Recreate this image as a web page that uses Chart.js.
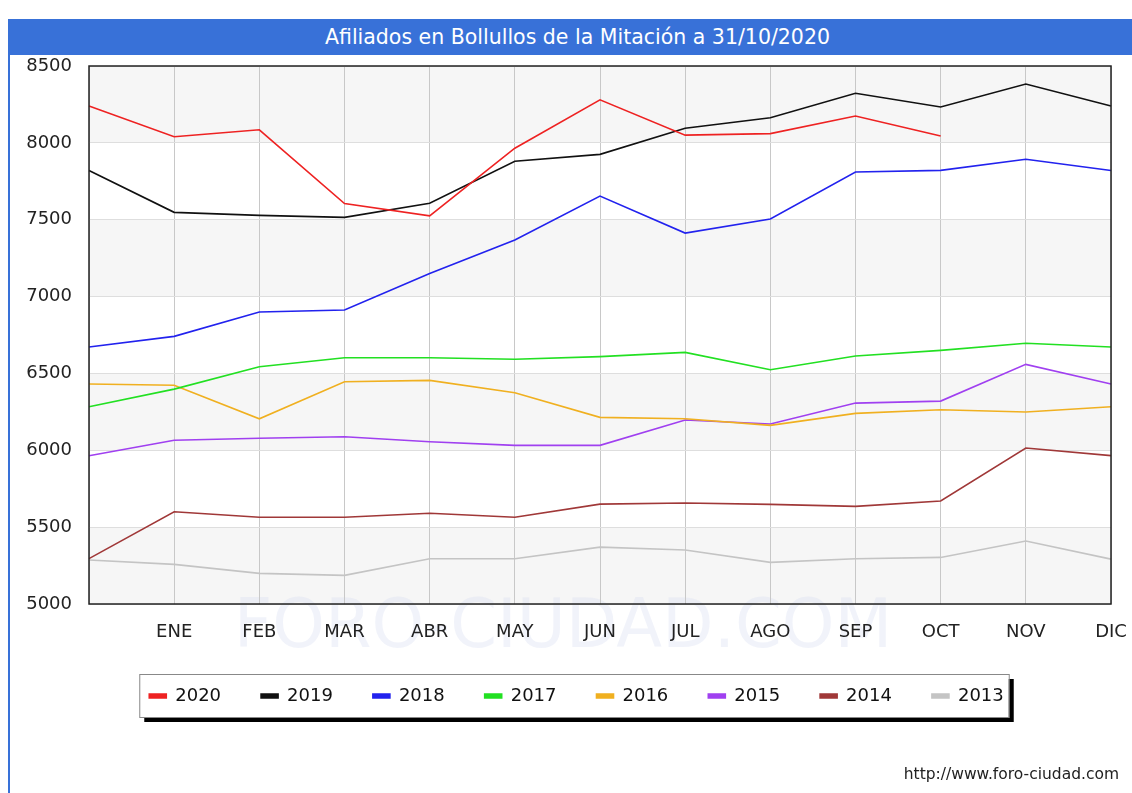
<!DOCTYPE html>
<html>
<head>
<meta charset="utf-8">
<script src="https://cdn.jsdelivr.net/npm/chart.js@4/dist/chart.umd.min.js"></script>
<style>
  body { margin: 0; background: #fff; }
  #marco { position: relative; width: 1132px; height: 793px; overflow: hidden; }
  #titulo {
    position: absolute; left: 9px; top: 19px; width: 1123px; height: 36px;
    background: #3871d8; color: #fff; font: 20.5px "DejaVu Sans", sans-serif;
    line-height: 36px; text-align: center; padding-left: 14px; box-sizing: border-box;
  }
  #borde { position: absolute; left: 8px; top: 19px; width: 2px; height: 774px; background: #3871d8; }
  canvas { position: absolute; left: 0; top: 0; }
</style>
</head>
<body>
<div id="marco">
  <canvas id="grafico" width="1132" height="793"></canvas>
  <div id="borde"></div>
  <div id="titulo">Afiliados en Bollullos de la Mitación a 31/10/2020</div>
</div>
<script>
// meses (el primer punto es diciembre del año anterior)
const meses = ['', 'ENE', 'FEB', 'MAR', 'ABR', 'MAY', 'JUN', 'JUL', 'AGO', 'SEP', 'OCT', 'NOV', 'DIC'];
const anios = ['2020', '2019', '2018', '2017', '2016', '2015', '2014', '2013'];
const colores = ['#ee2222', '#111111', '#2222ee', '#22e022', '#f0b020', '#a040f0', '#a03838', '#c4c4c4'];

const datos2020 = [8240, 8040, 8085, 7605, 7525, 7965, 8280, 8050, 8060, 8175, 8045];
const datos2019 = [7820, 7548, 7528, 7515, 7607, 7880, 7925, 8095, 8163, 8323, 8233, 8383, 8240];
const datos2018 = [6672, 6741, 6900, 6913, 7150, 7368, 7654, 7413, 7505, 7810, 7821, 7893, 7820];
const datos2017 = [6283, 6398, 6544, 6602, 6602, 6592, 6609, 6637, 6524, 6613, 6650, 6696, 6672];
const datos2016 = [6431, 6423, 6205, 6446, 6455, 6374, 6214, 6205, 6162, 6240, 6264, 6249, 6283];
const datos2015 = [5965, 6065, 6078, 6088, 6056, 6032, 6032, 6197, 6171, 6307, 6320, 6559, 6431];
const datos2014 = [5295, 5600, 5564, 5564, 5590, 5564, 5650, 5657, 5648, 5635, 5670, 6015, 5965];
const datos2013 = [5286, 5258, 5199, 5186, 5294, 5294, 5370, 5351, 5271, 5294, 5303, 5410, 5292];

const series = [datos2020, datos2019, datos2018, datos2017, datos2016, datos2015, datos2014, datos2013];

Chart.defaults.font.family = '"DejaVu Sans", sans-serif';
Chart.defaults.color = '#222';

// bandas grises, marca de agua y caja de la leyenda
const fondo = {
  id: 'fondo',
  afterLayout(chart) {
    // mover la leyenda a la derecha, como en el original
    const ley = chart.legend, dx = 11;
    ley.left += dx;
    ley.right += dx;
    ley.legendHitBoxes.forEach(h => { h.left += dx; });
  },
  beforeDraw(chart) {
    const { ctx, chartArea: a, scales: { y } } = chart;
    ctx.save();
    ctx.fillStyle = '#f6f6f6';
    for (let v = 5000; v < 8500; v += 1000) {
      const y1 = y.getPixelForValue(v + 500), y2 = y.getPixelForValue(v);
      ctx.fillRect(a.left, y1, a.right - a.left, y2 - y1);
    }
    // marca de agua
    ctx.font = '67px "DejaVu Sans", sans-serif';
    ctx.fillStyle = 'rgba(215,222,240,0.35)';
    ctx.textAlign = 'center';
    ctx.textBaseline = 'middle';
    ctx.fillText('FORO-CIUDAD.COM', 563, 630);

    // caja de la leyenda con sombra
    const cajas = chart.legend.legendHitBoxes;
    if (cajas && cajas.length) {
      const ultima = cajas[cajas.length - 1];
      const x1 = cajas[0].left - 10, x2 = ultima.left + ultima.width + 5;
      const yc = cajas[0].top + cajas[0].height / 2;
      const y1 = yc - 22, y2 = yc + 21;
      ctx.fillStyle = '#000';
      ctx.fillRect(x1 + 5, y1 + 5, x2 - x1, y2 - y1);
      ctx.fillStyle = '#fff';
      ctx.fillRect(x1, y1, x2 - x1, y2 - y1);
      ctx.strokeStyle = '#888';
      ctx.lineWidth = 1;
      ctx.strokeRect(x1 + 0.5, y1 + 0.5, x2 - x1, y2 - y1);
    }
    ctx.restore();
  },
  afterDraw(chart) {
    const { ctx, chartArea: a } = chart;
    ctx.save();
    ctx.strokeStyle = '#222';
    ctx.lineWidth = 1.5;
    ctx.strokeRect(a.left, a.top, a.right - a.left, a.bottom - a.top);
    ctx.font = '15.5px "DejaVu Sans", sans-serif';
    ctx.fillStyle = '#222';
    ctx.textAlign = 'right';
    ctx.textBaseline = 'middle';
    ctx.fillText('http://www.foro-ciudad.com', 1119, 775);
    ctx.restore();
  }
};

const ctx = document.getElementById('grafico').getContext('2d');
new Chart(ctx, {
  type: 'line',
  data: {
    labels: meses,
    datasets: anios.map((a, i) => ({
      label: a,
      data: series[i],
      borderColor: colores[i],
      backgroundColor: colores[i],
      borderWidth: 1.6,
      pointRadius: 0,
      tension: 0,
      fill: false
    }))
  },
  options: {
    responsive: false,
    animation: false,
    devicePixelRatio: 1,
    layout: { padding: { top: 66, left: 20, right: 21, bottom: 78 } },
    plugins: {
      title: { display: false },
      tooltip: { enabled: false },
      legend: {
        position: 'bottom',
        labels: {
          boxWidth: 17,
          boxHeight: 4,
          padding: 40,
          color: '#111',
          font: { size: 18 }
        }
      }
    },
    scales: {
      x: {
        offset: false,
        grid: { color: '#c8c8c8', drawTicks: false },
        border: { display: false },
        ticks: { autoSkip: false, maxRotation: 0, padding: 18, font: { size: 18 }, color: '#222' },
        afterFit: s => { s.height = 43; s.paddingLeft = 0; s.paddingRight = 0; }
      },
      y: {
        min: 5000,
        max: 8500,
        grid: { color: '#dedede', drawTicks: false },
        border: { display: false },
        ticks: { stepSize: 500, padding: 17, font: { size: 18 }, color: '#222', callback: v => String(v) },
        afterFit: s => { s.width = 69; }
      }
    }
  },
  plugins: [fondo]
});
</script>
</body>
</html>
